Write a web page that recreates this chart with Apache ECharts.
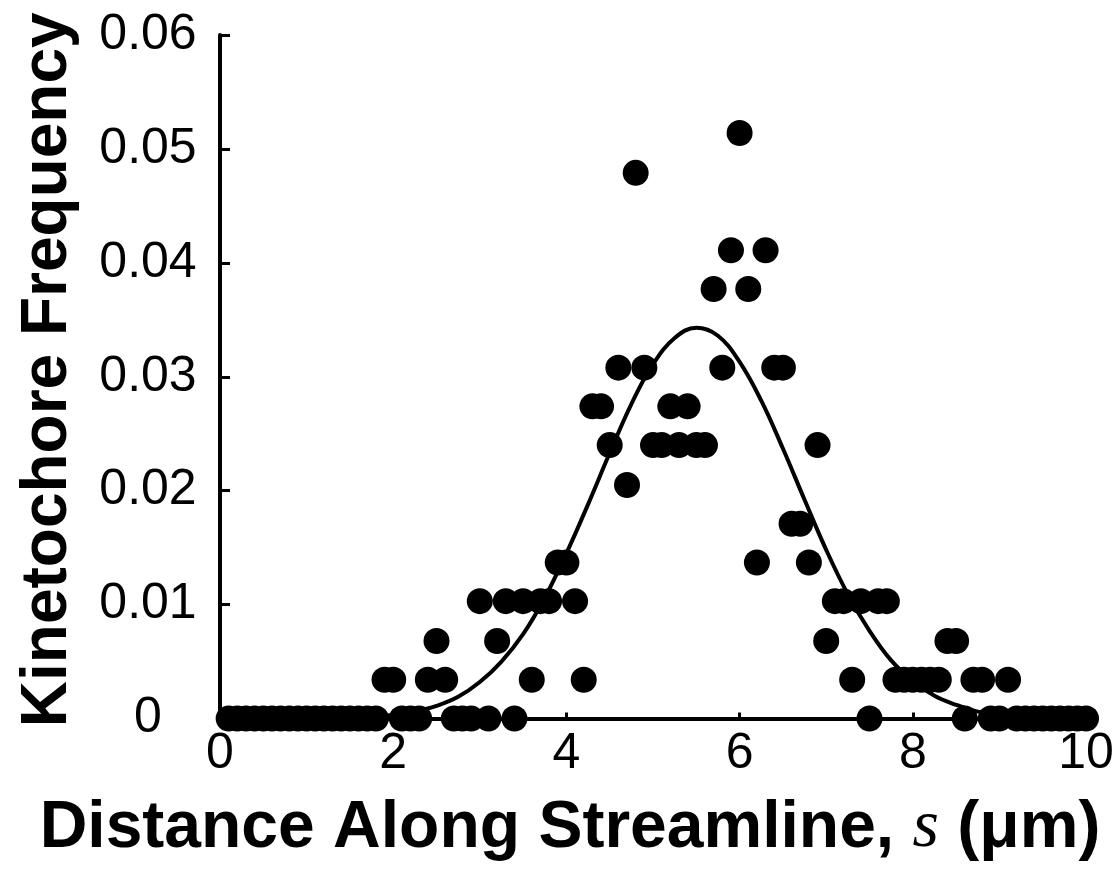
<!DOCTYPE html>
<html>
<head>
<meta charset="utf-8">
<script src="https://cdn.jsdelivr.net/npm/echarts@6/dist/echarts.min.js"></script>
<style>
  html, body { margin: 0; padding: 0; background: #fff; }
  #chart { width: 1119px; height: 873px; }
</style>
</head>
<body>
<div id="chart"></div>
<script>
// Position along the streamline (µm), one bin every 0.1 µm
const sPositions = [
  0.1, 0.2, 0.3, 0.4, 0.5, 0.6, 0.7, 0.8, 0.9, 1.0,
  1.1, 1.2, 1.3, 1.4, 1.5, 1.6, 1.7, 1.8, 1.9, 2.0,
  2.1, 2.2, 2.3, 2.4, 2.5, 2.6, 2.7, 2.8, 2.9, 3.0,
  3.1, 3.2, 3.3, 3.4, 3.5, 3.6, 3.7, 3.8, 3.9, 4.0,
  4.1, 4.2, 4.3, 4.4, 4.5, 4.6, 4.7, 4.8, 4.9, 5.0,
  5.1, 5.2, 5.3, 5.4, 5.5, 5.6, 5.7, 5.8, 5.9, 6.0,
  6.1, 6.2, 6.3, 6.4, 6.5, 6.6, 6.7, 6.8, 6.9, 7.0,
  7.1, 7.2, 7.3, 7.4, 7.5, 7.6, 7.7, 7.8, 7.9, 8.0,
  8.1, 8.2, 8.3, 8.4, 8.5, 8.6, 8.7, 8.8, 8.9, 9.0,
  9.1, 9.2, 9.3, 9.4, 9.5, 9.6, 9.7, 9.8, 9.9, 10.0
];

// Kinetochore frequency observed in each bin
const kinetochoreFreq = [
  0, 0, 0, 0, 0, 0, 0, 0, 0, 0,
  0, 0, 0, 0, 0, 0, 0, 0, 0.0034, 0.0034,
  0, 0, 0, 0.0034, 0.0068, 0.0034, 0, 0, 0, 0.0103,
  0, 0.0068, 0.0103, 0, 0.0103, 0.0034, 0.0103, 0.0103, 0.0137, 0.0137,
  0.0103, 0.0034, 0.0274, 0.0274, 0.0240, 0.0308, 0.0205, 0.0479, 0.0308, 0.0240,
  0.0240, 0.0274, 0.0240, 0.0274, 0.0240, 0.0240, 0.0377, 0.0308, 0.0411, 0.0514,
  0.0377, 0.0137, 0.0411, 0.0308, 0.0308, 0.0171, 0.0171, 0.0137, 0.0240, 0.0068,
  0.0103, 0.0103, 0.0034, 0.0103, 0, 0.0103, 0.0103, 0.0034, 0.0034, 0.0034,
  0.0034, 0.0034, 0.0034, 0.0068, 0.0068, 0, 0.0034, 0.0034, 0, 0,
  0.0034, 0, 0, 0, 0, 0, 0, 0, 0, 0
];

// Fitted distribution curve, sampled along s
const curveS = [
  0, 1.5, 2.0, 2.25, 2.5, 2.75, 3.0, 3.25, 3.5, 3.75, 4.0, 4.25, 4.5, 4.75,
  5.0, 5.25, 5.5, 5.75, 6.0, 6.25, 6.5, 6.75, 7.0, 7.25, 7.5, 7.75, 8.0,
  8.25, 8.5, 8.75, 9.0, 9.5, 10
];
const curveFreq = [
  0, 0.0001, 0.0003, 0.0006, 0.0011, 0.0019, 0.0032, 0.0050, 0.0074, 0.0106, 0.0145, 0.0188, 0.0233, 0.0276,
  0.0311, 0.0334, 0.0343, 0.0336, 0.0313, 0.0279, 0.0237, 0.0192, 0.0148, 0.0109, 0.0077, 0.0051, 0.0033,
  0.0020, 0.0012, 0.0006, 0.0003, 0.0001, 0
];

// Axis tick values
const xTicks = [0, 2, 4, 6, 8, 10];
const yTicks = [0, 0.01, 0.02, 0.03, 0.04, 0.05, 0.06];

const chart = echarts.init(document.getElementById('chart'), null, { renderer: 'canvas' });

const font = 'Liberation Sans, Arial, sans-serif';

chart.setOption({
  animation: false,
  backgroundColor: '#ffffff',
  grid: {
    left: 220, right: 33, top: 35, bottom: 154.5,
    containLabel: false,
    outerBoundsMode: 'none'
  },
  xAxis: {
    type: 'value',
    min: xTicks[0],
    max: xTicks[xTicks.length - 1],
    interval: xTicks[1] - xTicks[0],
    axisLine: { show: true, onZero: false, lineStyle: { color: '#000', width: 4 } },
    axisTick: { show: true, inside: true, length: 6, lineStyle: { color: '#000', width: 3 } },
    splitLine: { show: false },
    axisLabel: { color: '#000', fontFamily: font, fontSize: 50, margin: 11 },
    name: '{b|Distance Along Streamline, }{i|s}{b| (μm)}',
    nameLocation: 'middle',
    nameGap: 76,
    nameTextStyle: {
      padding: [0, 166, 0, 0],
      rich: {
        b: { fontFamily: font, fontWeight: 'bold', fontSize: 66, color: '#000' },
        i: { fontFamily: 'Liberation Serif, serif', fontStyle: 'italic', fontSize: 68, color: '#000' }
      }
    }
  },
  yAxis: {
    type: 'value',
    min: yTicks[0],
    max: yTicks[yTicks.length - 1],
    interval: yTicks[1] - yTicks[0],
    axisLine: { show: true, lineStyle: { color: '#000', width: 4 } },
    axisTick: { show: true, inside: true, length: 10, lineStyle: { color: '#000', width: 3 } },
    splitLine: { show: false },
    axisLabel: {
      color: '#000', fontFamily: font, fontSize: 50, margin: 72, align: 'center',
      formatter: v => (v === 0 ? '0' : v.toFixed(2))
    },
    name: 'Kinetochore Frequency',
    nameLocation: 'middle',
    nameGap: 140,
    nameTextStyle: {
      fontFamily: font, fontWeight: 'bold', fontSize: 64, color: '#000',
      padding: [0, 0, 0, 14]
    }
  },
  series: [
    {
      type: 'scatter',
      data: sPositions.map((s, i) => [s, kinetochoreFreq[i]]),
      symbol: 'circle',
      symbolSize: 26,
      itemStyle: { color: '#000', opacity: 1 },
      clip: false,
      z: 2
    },
    {
      type: 'line',
      data: curveS.map((s, i) => [s, curveFreq[i]]),
      smooth: 0.4,
      showSymbol: false,
      symbol: 'none',
      lineStyle: { color: '#000', width: 4 },
      z: 3
    }
  ]
});
</script>
</body>
</html>
